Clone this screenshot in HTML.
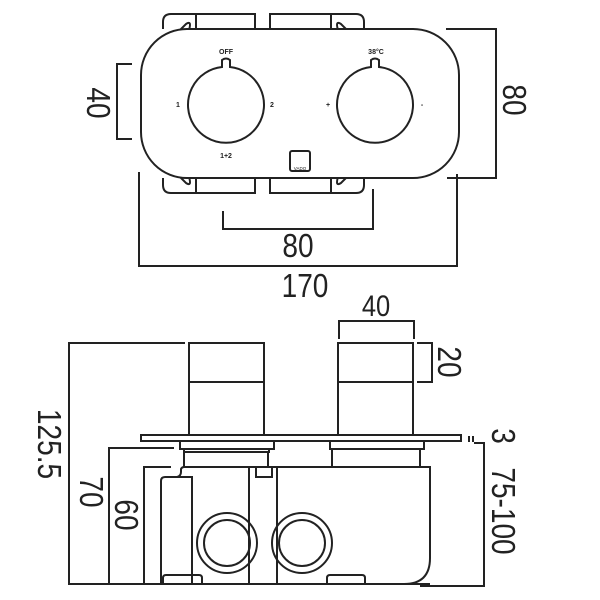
<!DOCTYPE html>
<html><head><meta charset="utf-8"><style>
html,body{margin:0;padding:0;background:#fff;}
svg{display:block;}
text{font-family:"Liberation Sans",sans-serif;fill:#222;}
.d{font-size:33px;}
.s{font-size:7px;font-weight:bold;}
</style></head><body>
<svg width="600" height="600" viewBox="0 0 600 600" fill="none" stroke="#222" stroke-width="2">
<path d="M163,29 V22 Q163,14 171,14 H255 V29"/>
<line x1="196" y1="14" x2="196" y2="29"/>
<path d="M364,29 V22 Q364,14 356,14 H270 V29"/>
<line x1="331" y1="14" x2="331" y2="29"/>
<path d="M163,178 V185 Q163,193 171,193 H255 V178"/>
<line x1="196" y1="178" x2="196" y2="193"/>
<path d="M364,178 V185 Q364,193 356,193 H270 V178"/>
<line x1="331" y1="178" x2="331" y2="193"/>
<path d="M178,32 L186,24 Q192,20 189,30" />
<path d="M349,32 L341,24 Q335,20 338,30" />
<path d="M178,175 L186,183 Q192,187 189,177" />
<path d="M349,175 L341,183 Q335,187 338,177" />
<rect x="141" y="29" width="318" height="149" rx="46" fill="#fff"/>
<path d="M222,67 V60 Q226,57 230,60 V67 A38,38 0 1 1 222,67 Z"/>
<path d="M371,67 V60 Q375,57 379,60 V67 A38,38 0 1 1 371,67 Z"/>
<rect x="290" y="151" width="20" height="20" rx="2"/>
<g stroke="none">
<text class="s" x="226" y="54" text-anchor="middle">OFF</text>
<text class="s" x="376" y="54" text-anchor="middle">38°C</text>
<text class="s" x="178" y="107" text-anchor="middle">1</text>
<text class="s" x="272" y="107" text-anchor="middle">2</text>
<text class="s" x="328" y="107" text-anchor="middle">+</text>
<text class="s" x="422" y="107" text-anchor="middle">-</text>
<text class="s" x="226" y="158" text-anchor="middle">1+2</text>
<text x="300" y="170" text-anchor="middle" style="font-size:4.5px">VADO</text>
</g>
<path d="M132,64 H117 V139 H132"/>
<path d="M446,29 H496 V178 H447"/>
<path d="M223,211 V229 H373 V189"/>
<path d="M139,172 V266 H457 V174"/>
<g stroke="none">
<text class="d" transform="translate(87,103) rotate(90) scale(0.85,1)" text-anchor="middle">40</text>
<text class="d" transform="translate(503,100) rotate(90) scale(0.85,1)" text-anchor="middle">80</text>
<text class="d" transform="translate(298,257) scale(0.85,1)" text-anchor="middle">80</text>
<text class="d" transform="translate(305,297) scale(0.85,1)" text-anchor="middle">170</text>
<text style="font-size:30px" transform="translate(376,316) scale(0.85,1)" text-anchor="middle">40</text>
<text class="d" transform="translate(438,362) rotate(90) scale(0.85,1)" text-anchor="middle">20</text>
<text class="d" transform="translate(492,436) rotate(90) scale(0.85,1)" text-anchor="middle">3</text>
<text class="d" transform="translate(492,511) rotate(90) scale(0.85,1)" text-anchor="middle">75-100</text>
<text class="d" transform="translate(38,444) rotate(90) scale(0.85,1)" text-anchor="middle">125.5</text>
<text class="d" transform="translate(80,492) rotate(90) scale(0.85,1)" text-anchor="middle">70</text>
<text class="d" transform="translate(115,515) rotate(90) scale(0.85,1)" text-anchor="middle">60</text>
</g>
<rect x="189" y="343" width="75" height="92"/>
<line x1="189" y1="382" x2="264" y2="382"/>
<rect x="338" y="343" width="75" height="92"/>
<line x1="338" y1="382" x2="413" y2="382"/>
<rect x="141" y="435" width="320" height="6"/>
<rect x="180" y="441" width="94" height="8"/>
<rect x="184" y="449" width="85" height="3"/>
<rect x="184" y="452" width="84" height="15"/>
<rect x="330" y="441" width="94" height="8"/>
<rect x="332" y="449" width="88" height="18"/>
<path d="M277,467 H430 V558 Q430,584 404,584 H277"/>
<line x1="277" y1="467" x2="277" y2="584"/>
<line x1="249" y1="467" x2="249" y2="584"/>
<line x1="184" y1="467" x2="277" y2="467"/>
<rect x="256" y="467" width="16" height="10"/>
<path d="M161,584 V481 Q161,477 165,477 H192 V584"/>
<path d="M177,477 Q181,476 181,472 V469 Q182,467 184,467"/>
<line x1="156" y1="584" x2="430" y2="584"/>
<path d="M163,584 V578 Q163,575 166,575 H199 Q202,575 202,578 V584"/>
<path d="M327,584 V578 Q327,575 330,575 H362 Q365,575 365,578 V584"/>
<circle cx="227" cy="543" r="30"/><circle cx="227" cy="543" r="23"/>
<circle cx="302" cy="543" r="30"/><circle cx="302" cy="543" r="23"/>
<path d="M185,343 H69 V584 H156"/>
<path d="M174,448 H109 V584"/>
<path d="M171,467 H144 V584"/>
<path d="M339,339 V321 H414 V339"/>
<path d="M417,343 H432 V382 H417"/>
<line x1="469" y1="436" x2="469" y2="442"/>
<line x1="473" y1="436" x2="473" y2="442"/>
<path d="M474,443 H484 V586 H420"/>
</svg>
</body></html>
